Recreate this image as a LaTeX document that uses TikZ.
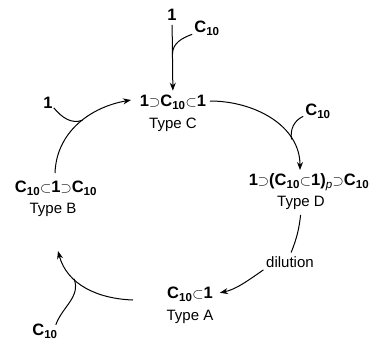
\documentclass[tikz,border=0pt]{standalone}
\usepackage{fontspec}
\setmainfont{Liberation Sans}
\usetikzlibrary{arrows.meta}
\newcommand{\Csup}{{\fontsize{14}{14}\selectfont$\supset$}}
\newcommand{\Csub}{{\fontsize{14}{14}\selectfont$\subset$}}
\newcommand{\Cten}{C\textsubscript{10}}
\begin{document}
\begin{tikzpicture}[x=1pt,y=1pt,
  chem/.style={font=\fontsize{16.5}{16.5}\selectfont\bfseries, inner sep=1pt},
  typ/.style={font=\fontsize{15}{15}\selectfont, inner sep=1pt},
  arr/.style={-{Stealth[length=8pt,width=6pt]}, line width=1pt},
  ln/.style={line width=1pt}]
\useasboundingbox (0,0) rectangle (372,-360);
% species
\node[chem] (one) at (172,-15) {1};
\node[chem] (c10a) at (207,-28) {\Cten};
\node[chem] (C) at (173,-102) {1\Csup\Cten\Csub 1};
\node[typ] (tC) at (173,-125) {Type C};
\node[chem] (c10b) at (318,-111) {\Cten};
\node[chem] (D) at (309,-182) {1\Csup(\Cten\Csub 1)\textsubscript{\normalfont\itshape p}\Csup\Cten};
\node[typ] (tD) at (301,-203) {Type D};
\node[typ] (dil) at (290,-262) {dilution};
\node[chem] (A) at (190,-294) {\Cten\Csub 1};
\node[typ] (tA) at (190,-317) {Type A};
\node[chem] (c10c) at (45,-331) {\Cten};
\node[chem] (B) at (56,-188) {\Cten\Csub 1\Csup\Cten};
\node[typ] (tB) at (53,-210) {Type B};
\node[chem] (oneb) at (48,-103) {1};
% arrow endpoints
\coordinate (cS) at (210,-101);
\coordinate (dN) at (300,-170);
\coordinate (aW) at (133,-300);
\coordinate (bN) at (58,-251);
\coordinate (bS) at (55,-173);
\coordinate (cW) at (131,-100);
% top entry
\draw[arr, shorten <=3pt, shorten >=3pt] (one) -- coordinate[pos=0.45] (j1) (C);
\draw[ln] (c10a.south west) ++(-1,2) to[out=200,in=90] (j1);
% C -> D
\draw[arr] (cS) to[out=0,in=90] coordinate[pos=0.74] (j2) (dN);
\draw[ln] (c10b.south west) ++(-1,3) to[out=205,in=100] (j2);
% D -> A
\draw[ln, shorten <=4pt, shorten >=3pt] (tD.south) to[bend left=8] (dil.north);
\draw[arr, shorten <=2pt, shorten >=6pt] (dil.south west) to[out=-145,in=12] (A.east);
% A -> B
\draw[arr] (aW) to[out=178,in=-75] coordinate[pos=0.66] (j3) (bN);
\draw[ln] (c10c.north east) ++(-3,-2) to[out=70,in=-70] (j3);
% B -> C
\draw[arr] (bS) to[out=88,in=190] coordinate[pos=0.55] (j4) (cW);
\draw[ln] (oneb.south east) ++(0,2) to[out=-50,in=200] (j4);
\end{tikzpicture}
\end{document}
